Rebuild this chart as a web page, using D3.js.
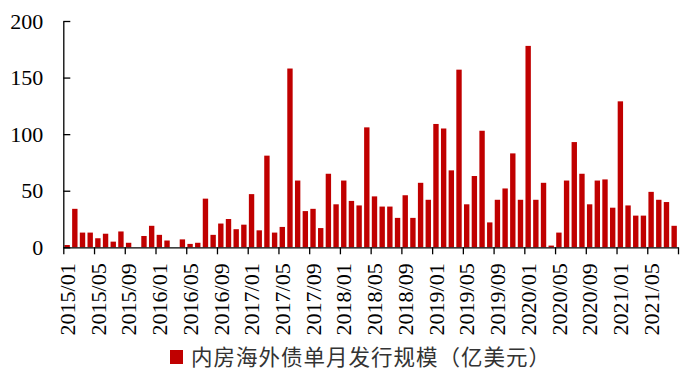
<!DOCTYPE html>
<html>
<head>
<meta charset="utf-8">
<script src="https://cdn.jsdelivr.net/npm/d3@7"></script>
<style>
  html, body { margin: 0; padding: 0; background: #ffffff; }
  svg { display: block; }
</style>
</head>
<body>
<svg id="chart" width="695" height="386"></svg>
<script>
// ---- data ----
const years = [2015, 2016, 2017, 2018, 2019, 2020, 2021];
const months = [];
years.forEach(yr => {
  for (let m = 1; m <= 12; m++) {
    if (yr === 2021 && m > 8) break;
    months.push(yr + "/" + String(m).padStart(2, "0"));
  }
});
const values2015 = [2, 34, 13, 13, 8, 12, 5, 14, 4, 0, 10, 19];
const values2016 = [11, 6, 0, 7, 3, 4, 43, 11, 21, 25, 16, 20];
const values2017 = [47, 15, 81, 13, 18, 158, 59, 32, 34, 17, 65, 38];
const values2018 = [59, 41, 37, 106, 45, 36, 36, 26, 46, 26, 57, 42];
const values2019 = [109, 105, 68, 157, 38, 63, 103, 22, 42, 52, 83, 42];
const values2020 = [178, 42, 57, 1.5, 13, 59, 93, 65, 38, 59, 60, 35];
const values2021 = [129, 37, 28, 28, 49, 42, 40, 19];
const values = [].concat(values2015, values2016, values2017, values2018, values2019, values2020, values2021);
const yTicks = [0, 50, 100, 150, 200];
const xLabelTicks = months.filter((d, i) => i % 4 === 0);
const seriesName = "内房海外债单月发行规模（亿美元）";

// ---- layout ----
const svg = d3.select("#chart");
const plotLeft = 63.3, plotRight = 678, plotTop = 21, plotBottom = 247.3;
const barColor = "#C00000";
const serif = "'Liberation Serif'";

const x = d3.scaleBand().domain(months).range([plotLeft, plotRight]).paddingInner(0.3).paddingOuter(0.15);
const xIdx = d3.scaleLinear().domain([0, months.length]).range([plotLeft, plotRight]);
const y = d3.scaleLinear().domain([0, 200]).range([plotBottom, plotTop]);

// bars
svg.append("g").selectAll("rect")
  .data(months.map((m, i) => ({ m, v: values[i] })))
  .join("rect")
  .attr("x", d => x(d.m))
  .attr("width", x.bandwidth())
  .attr("y", d => y(d.v))
  .attr("height", d => plotBottom - y(d.v))
  .attr("fill", barColor);

// y axis
const yAxis = svg.append("g")
  .attr("transform", `translate(${plotLeft},0)`)
  .call(d3.axisLeft(y).tickValues(yTicks).tickSizeInner(-7).tickSizeOuter(0).tickPadding(20).tickFormat(d3.format("d")));
yAxis.attr("font-family", serif).attr("font-size", 22);
yAxis.select(".domain").attr("stroke", "#000").attr("stroke-width", 1.3);
yAxis.selectAll(".tick line").attr("stroke", "#000").attr("stroke-width", 1.3);
yAxis.selectAll("text").style("font-family", serif).style("font-size", "22px").attr("fill", "#000");

// x axis ticks (category boundaries every 4 months)
const boundaryTicks = d3.range(0, months.length + 1, 4);
const xTickAxis = svg.append("g")
  .attr("transform", `translate(0,${plotBottom})`)
  .call(d3.axisBottom(xIdx).tickValues(boundaryTicks).tickSize(7).tickSizeOuter(0).tickFormat(""));
xTickAxis.select(".domain").attr("stroke", "#000").attr("stroke-width", 1.3);
xTickAxis.selectAll(".tick line").attr("stroke", "#000").attr("stroke-width", 1.3);

// x axis labels
const xLabAxis = svg.append("g")
  .attr("transform", `translate(0,${plotBottom})`)
  .call(d3.axisBottom(x).tickValues(xLabelTicks).tickSize(0));
xLabAxis.attr("font-family", serif).attr("font-size", 22);
xLabAxis.select(".domain").remove();
xLabAxis.selectAll("text")
  .style("font-family", serif)
  .style("font-size", "22px")
  .attr("fill", "#000")
  .attr("transform", "rotate(-90)")
  .attr("x", -16)
  .attr("y", 0)
  .attr("dy", "0.35em")
  .style("text-anchor", "end");

// legend
const legend = svg.append("g");
legend.append("rect").attr("x", 170).attr("y", 350).attr("width", 13).attr("height", 14).attr("fill", barColor);
legend.append("text")
  .attr("x", 191)
  .attr("y", 357)
  .attr("dy", "0.35em")
  .style("font-family", "'Noto Sans CJK SC'")
  .style("font-size", "21.5px")
  .style("letter-spacing", "1px")
  .attr("fill", "#333")
  .text(seriesName);
</script>
</body>
</html>
